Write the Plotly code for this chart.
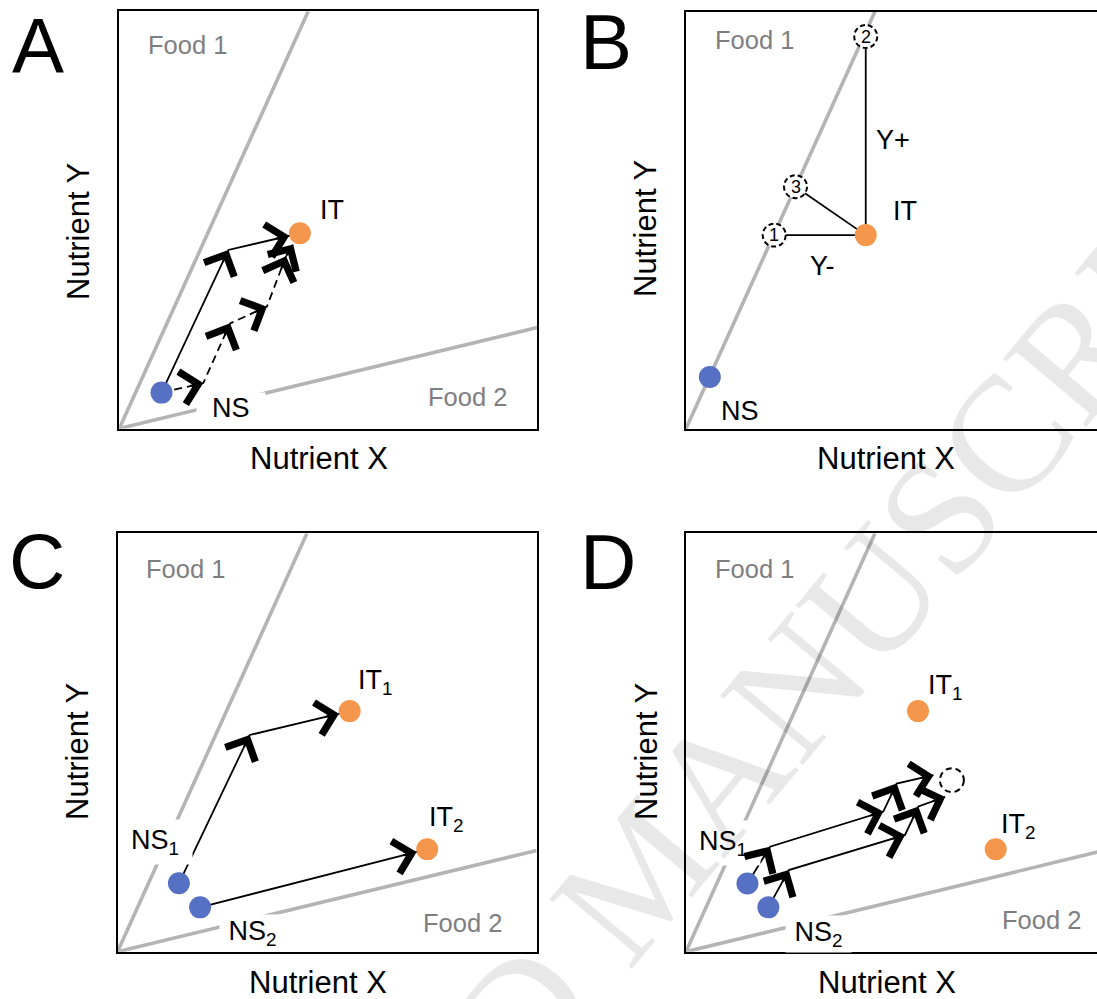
import math
import plotly.graph_objects as go

FIG_W, FIG_H = 1097, 999

# ---------------- data (normalised nutrient space, 0..1 in each panel) -------------
food1_slope = 2.212      # Nutrient Y / Nutrient X along the "Food 1" rail
food2_slope = 0.242      # Nutrient Y / Nutrient X along the "Food 2" rail

# Panel A
a_ns_x, a_ns_y = [0.101], [0.086]
a_it_x, a_it_y = [0.432], [0.468]
a_solid_x = [0.101, 0.261, 0.432]
a_solid_y = [0.086, 0.428, 0.468]
a_dash_x = [0.101, 0.201, 0.265, 0.353, 0.399, 0.432]
a_dash_y = [0.086, 0.109, 0.252, 0.292, 0.413, 0.468]

# Panel B
b_ns_x, b_ns_y = [0.057], [0.124]
b_it_x, b_it_y = [0.430], [0.464]
b_opt_x = [0.211, 0.430, 0.262]
b_opt_y = [0.464, 0.940, 0.580]
b_opt_lbl = ["1", "2", "3"]

# Panel C
c_ns_x, c_ns_y = [0.1465, 0.197], [0.1635, 0.106]
c_it_x, c_it_y = [0.554, 0.739], [0.575, 0.245]
c_path1_x, c_path1_y = [0.1465, 0.3155, 0.554], [0.1635, 0.518, 0.575]
c_path2_x, c_path2_y = [0.197, 0.739], [0.106, 0.245]

# Panel D
d_ns_x, d_ns_y = [0.147, 0.197], [0.163, 0.106]
d_it_x, d_it_y = [0.555, 0.741], [0.575, 0.245]
d_path1_x = [0.147, 0.201, 0.472, 0.504, 0.592]
d_path1_y = [0.163, 0.251, 0.335, 0.402, 0.422]
d_path2_x = [0.197, 0.246, 0.524, 0.556, 0.620]
d_path2_y = [0.106, 0.195, 0.279, 0.347, 0.370]
d_goal_x, d_goal_y = [0.636], [0.410]

# ---------------- style ----------------
FONT = "Liberation Sans, Arial, sans-serif"
BLUE = "#5670C4"
ORANGE = "#F4964B"
RAIL = "#B4B4B7"
RAIL_TXT = "#7E7E82"
DOT = 22
DOT_R = 11

# panel boxes in page pixels: left, top, right, bottom
panels = {
    "A": dict(box=(119.3, 11.3, 537.3, 428.5), s=""),
    "B": dict(box=(686.0, 11.5, 1104.0, 428.7), s="2"),
    "C": dict(box=(117.5, 533.3, 536.6, 951.7), s="3"),
    "D": dict(box=(686.0, 533.3, 1104.0, 951.7), s="4"),
}

fig = go.Figure()
layout = dict(width=FIG_W, height=FIG_H, margin=dict(l=0, r=0, t=0, b=0),
              paper_bgcolor="white", plot_bgcolor="white", showlegend=False)

for key, p in panels.items():
    l, t, r, b = p["box"]
    rr = min(r, FIG_W)
    s = p["s"]
    p["sx"] = r - l
    p["sy"] = b - t
    common = dict(showgrid=False, zeroline=False, showticklabels=False, ticks="",
                  showline=True, linecolor="black", linewidth=2, fixedrange=True)
    layout["xaxis" + s] = dict(domain=[l / FIG_W, rr / FIG_W], range=[0, (rr - l) / (r - l)],
                               anchor="y" + s, mirror=True, **common)
    layout["yaxis" + s] = dict(domain=[1 - b / FIG_H, 1 - t / FIG_H], range=[0, 1],
                               anchor="x" + s, mirror=(r <= FIG_W), **common)

fig.update_layout(**layout)

annotations = []
shapes = []


def xa(k):
    return "x" + panels[k]["s"]


def ya(k):
    return "y" + panels[k]["s"]


def add_line(k, xs, ys, color, width, dash="solid"):
    fig.add_trace(go.Scatter(x=xs, y=ys, xaxis=xa(k), yaxis=ya(k), mode="lines",
                             line=dict(color=color, width=width, dash=dash),
                             hoverinfo="skip", showlegend=False))


def add_dots(k, xs, ys, color):
    fig.add_trace(go.Scatter(x=xs, y=ys, xaxis=xa(k), yaxis=ya(k), mode="markers",
                             marker=dict(color=color, size=DOT, line=dict(width=0)),
                             hoverinfo="skip", showlegend=False))


heads = []


def add_heads(k, xs, ys, end_standoff=0):
    p = panels[k]
    n = len(xs)
    for i in range(1, n):
        dx = (xs[i] - xs[i - 1]) * p["sx"]
        dy = (ys[i] - ys[i - 1]) * p["sy"]
        L = math.hypot(dx, dy)
        so = end_standoff if i == n - 1 else 0
        d = 15 + so
        heads.append(dict(x=xs[i], y=ys[i], xref=xa(k), yref=ya(k), text="",
                          showarrow=True, axref="pixel", ayref="pixel",
                          ax=-dx / L * d, ay=dy / L * d, arrowhead=4, arrowsize=3.2,
                          arrowwidth=2, arrowcolor="black", standoff=so))


def label(k, text, x, y, size=27, color="black", xanchor="center", bg=None, pad=1):
    a = dict(text=text, x=x, y=y, xref=xa(k), yref=ya(k), showarrow=False,
             xanchor=xanchor, yanchor="middle", font=dict(family=FONT, size=size, color=color),
             borderpad=pad)
    if bg:
        a["bgcolor"] = bg
    annotations.append(a)


NB = "\u00a0"

# ---- food rails ----
for k in ["A", "B", "C", "D"]:
    add_line(k, [0, 1 / food1_slope], [0, 1], RAIL, 3.6)
for k in ["A", "C", "D"]:
    add_line(k, [0, 1], [0, food2_slope], RAIL, 3.6)

# ---- Panel A ----
add_line("A", a_solid_x, a_solid_y, "black", 1.8)
add_line("A", a_dash_x, a_dash_y, "black", 1.8, dash="8px,5px")
add_dots("A", a_ns_x, a_ns_y, BLUE)
add_dots("A", a_it_x, a_it_y, ORANGE)
add_heads("A", a_solid_x, a_solid_y, DOT_R)
add_heads("A", a_dash_x, a_dash_y, DOT_R + 2)
label("A", "Food 1", 0.063, 0.920, 25.5, RAIL_TXT, "left")
label("A", "Food 2", 0.734, 0.076, 25.5, RAIL_TXT, "left")
label("A", NB + NB + "NS" + NB + NB, 0.267, 0.050, bg="white", pad=0)
label("A", "IT", 0.508, 0.523)

# ---- Panel B ----
for cx, cy in zip(b_opt_x, b_opt_y):
    add_line("B", [b_it_x[0], cx], [b_it_y[0], cy], "black", 1.8)
add_dots("B", b_ns_x, b_ns_y, BLUE)
add_dots("B", b_it_x, b_it_y, ORANGE)
for cx, cy, t in zip(b_opt_x, b_opt_y, b_opt_lbl):
    shapes.append(dict(type="circle", xref=xa("B"), yref=ya("B"), xsizemode="pixel",
                       ysizemode="pixel", xanchor=cx, yanchor=cy, x0=-11.5, x1=11.5,
                       y0=-11.5, y1=11.5, fillcolor="white", layer="above",
                       line=dict(color="black", width=2, dash="5px,3px")))
label("B", "Food 1", 0.065, 0.932, 25.5, RAIL_TXT, "left")
label("B", "IT", 0.525, 0.523)
label("B", "NS", 0.129, 0.043)
label("B", "Y+", 0.496, 0.691)
label("B", "Y-", 0.327, 0.391)

# ---- Panel C ----
add_line("C", c_path1_x, c_path1_y, "black", 1.8)
add_line("C", c_path2_x, c_path2_y, "black", 1.8)
add_dots("C", c_ns_x, c_ns_y, BLUE)
add_dots("C", c_it_x, c_it_y, ORANGE)
add_heads("C", c_path1_x, c_path1_y, DOT_R)
add_heads("C", c_path2_x, c_path2_y, DOT_R)
label("C", "Food 1", 0.063, 0.915, 25.5, RAIL_TXT, "left")
label("C", "Food 2", 0.724, 0.069, 25.5, RAIL_TXT, "left")
label("C", "NS<sub>1</sub>" + NB, 0.019, 0.262, xanchor="left", bg="white", pad=5)
label("C", NB + "NS<sub>2</sub>" + NB, 0.322, 0.045, bg="white", pad=1)
label("C", "IT<sub>1</sub>", 0.615, 0.645)
label("C", "IT<sub>2</sub>", 0.785, 0.316)

# ---- Panel D ----
add_line("D", d_path1_x, d_path1_y, "black", 1.8)
add_line("D", d_path2_x, d_path2_y, "black", 1.8)
add_dots("D", d_ns_x, d_ns_y, BLUE)
add_dots("D", d_it_x, d_it_y, ORANGE)
add_heads("D", d_path1_x, d_path1_y)
add_heads("D", d_path2_x, d_path2_y)
shapes.append(dict(type="circle", xref=xa("D"), yref=ya("D"), xsizemode="pixel",
                   ysizemode="pixel", xanchor=d_goal_x[0], yanchor=d_goal_y[0],
                   x0=-12, x1=12, y0=-12, y1=12, fillcolor="rgba(0,0,0,0)", layer="above",
                   line=dict(color="black", width=2, dash="6px,4px")))
label("D", "Food 1", 0.065, 0.915, 25.5, RAIL_TXT, "left")
label("D", "Food 2", 0.751, 0.076, 25.5, RAIL_TXT, "left")
label("D", "NS<sub>1</sub>" + NB, 0.0167, 0.260, xanchor="left", bg="white", pad=5)
label("D", NB + "NS<sub>2</sub>" + NB, 0.317, 0.042, bg="white", pad=1)
label("D", "IT<sub>1</sub>", 0.621, 0.632)
label("D", "IT<sub>2</sub>", 0.795, 0.301)

annotations.extend(heads)

# circled option numbers in B
for cx, cy, t in zip(b_opt_x, b_opt_y, b_opt_lbl):
    annotations.append(dict(text=t, x=cx, y=cy, xref=xa("B"), yref=ya("B"), showarrow=False,
                            xanchor="center", yanchor="middle",
                            font=dict(family=FONT, size=18, color="black")))

# panel letters and axis titles (page pixels -> paper)
def paper_text(text, px, py, size, angle=0, color="black", family=FONT):
    annotations.append(dict(text=text, x=px / FIG_W, y=1 - py / FIG_H, xref="paper", yref="paper",
                            showarrow=False, xanchor="center", yanchor="middle", textangle=angle,
                            font=dict(family=family, size=size, color=color)))

for t, px, py in [("A", 38, 45.5), ("B", 606, 42), ("C", 37, 561), ("D", 607.5, 562)]:
    paper_text(t, px, py, 78)
for px, py in [(319, 459), (886, 459), (318, 982), (886.5, 982)]:
    paper_text("Nutrient X", px, py, 31)
for px, py in [(79, 232), (645, 229), (77, 752), (646, 752)]:
    paper_text("Nutrient Y", px, py, 31, angle=-90)

# watermark
paper_text("ACCEPTED MANUSCRIPT", 640, 872, 165, angle=-50,
           color="rgba(0,0,0,0.09)", family="Liberation Serif, Times New Roman, serif")

fig.update_layout(annotations=annotations, shapes=shapes)
fig.write_html("out.html", config={"displayModeBar": False, "staticPlot": True},
               post_script="document.body.style.margin='0px';")
